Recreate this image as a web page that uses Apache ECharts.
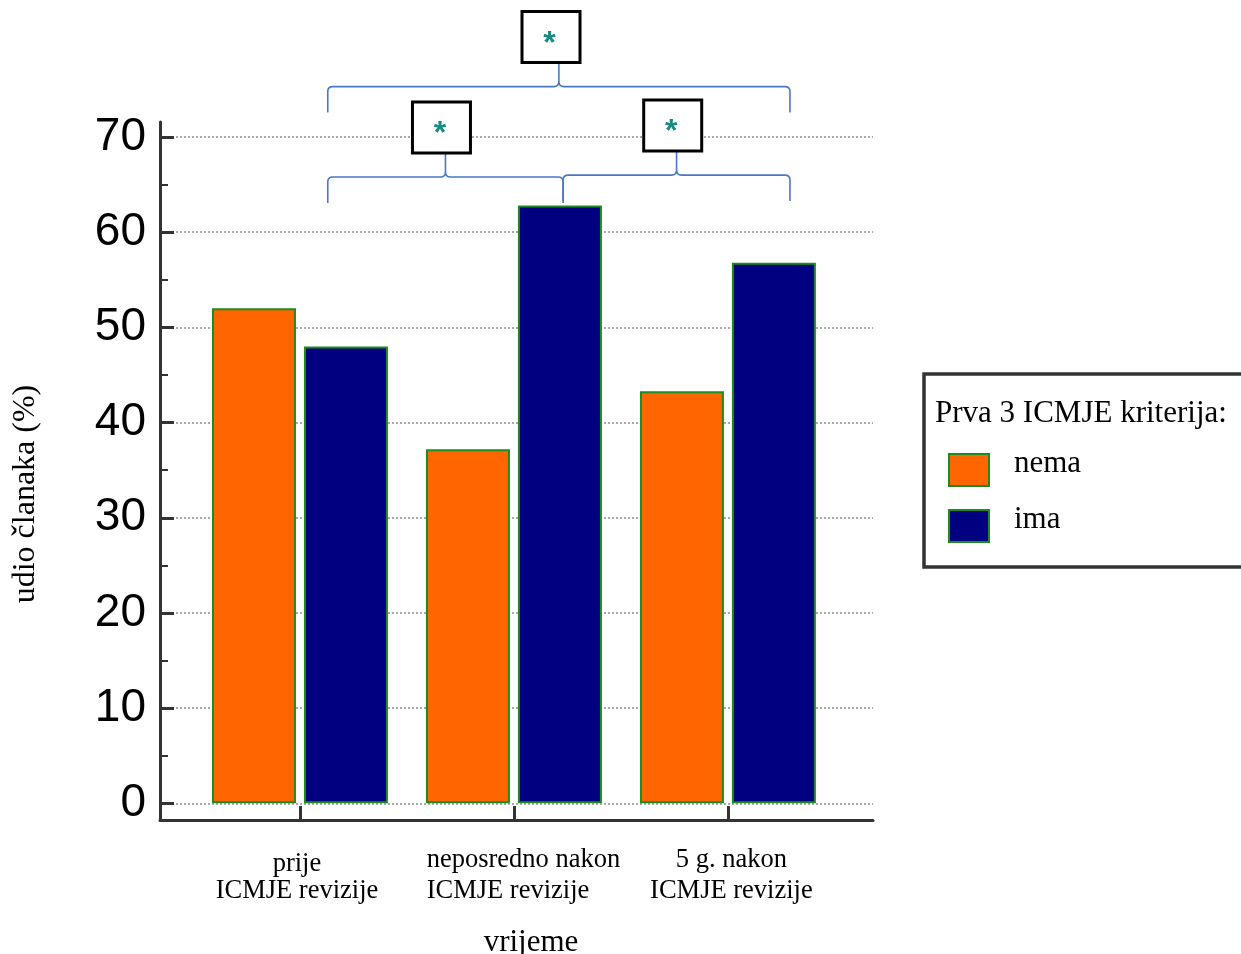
<!DOCTYPE html>
<html><head><meta charset="utf-8">
<script src="https://cdn.jsdelivr.net/npm/echarts@6/dist/echarts.min.js"></script>
<style>html,body{margin:0;padding:0;background:#fff}#c{width:1241px;height:954px}</style>
</head><body><div id="c"></div>
<script>
// ---- data ----
const categories = ['prije\nICMJE revizije', 'neposredno nakon\nICMJE revizije', '5 g. nakon\nICMJE revizije'];
const seriesNames = ['nema', 'ima'];
const nemaValues = [52, 37.2, 43.3];
const imaValues = [48, 62.8, 56.8];
const yTicks = [0, 10, 20, 30, 40, 50, 60, 70];
const yMinorTicks = [5, 15, 25, 35, 45, 55, 65];
const legendTitle = 'Prva 3 ICMJE kriterija:';
const xName = 'vrijeme';
const yName = 'udio članaka (%)';
// significance brackets: from / to (x units), level (y units)
const bracketFrom = [0.13, 1.23, 0.13];
const bracketTo = [1.23, 2.29, 2.29];
const bracketLevel = [65.8, 66.0, 75.3];
const bracketLabels = ['*', '*', '*'];

// ---- chart ----
const serif = '"Liberation Serif", "Times New Roman", serif';
const sans = '"Liberation Sans", Arial, sans-serif';
const catIdx = categories.map((_, i) => i);
const chart = echarts.init(document.getElementById('c'), null, {renderer: 'canvas'});

const axisColor = '#333';
const edge = '#1f8a1f';
const labelFont = {fontFamily: serif, fontSize: 26.5, color: '#000', lineHeight: 30.5};
// per-category label styling (first line, second line)
const labelStyleNames = [['a1', 'a2'], ['b', 'b'], ['c', 'c']];

const option = {
  animation: false,
  grid: {left: 160, right: 368, top: 122, bottom: 134, containLabel: false, outerBoundsMode: 'none'},
  title: {
    text: legendTitle, left: 935, top: 398, padding: 0,
    textStyle: {fontFamily: serif, fontSize: 31, fontWeight: 'normal', color: '#000'}
  },
  legend: {
    orient: 'vertical', left: 924, top: 374,
    data: seriesNames,
    itemWidth: 40, itemHeight: 32, itemGap: 12,
    padding: [74, 180, 19, 24],
    borderColor: axisColor, borderWidth: 3.5, backgroundColor: 'transparent',
    icon: 'rect',
    formatter: name => '{t|' + name + '}',
    textStyle: {
      fontFamily: serif, fontSize: 31, color: '#000',
      rich: {t: {fontFamily: serif, fontSize: 31, color: '#000', lineHeight: 31, padding: [0, 0, 13, 20]}}
    }
  },
  xAxis: {
    type: 'value', min: -0.654, max: 2.678,
    name: xName, nameLocation: 'middle', nameGap: 107,
    nameTextStyle: {fontFamily: serif, fontSize: 31, color: '#000', padding: [0, 0, 0, 29]},
    axisLine: {show: true, onZero: false, lineStyle: {color: axisColor, width: 3}},
    axisTick: {show: true, inside: true, length: 14, customValues: catIdx, lineStyle: {color: axisColor, width: 3}},
    axisLabel: {
      customValues: catIdx, margin: 25,
      fontFamily: serif, fontSize: 26.5, color: '#000', lineHeight: 30.5,
      formatter: v => {
        const i = Math.round(v);
        return categories[i].split('\n').map((l, k) => '{' + labelStyleNames[i][k] + '|' + l + '}').join('\n');
      },
      rich: {
        a1: Object.assign({padding: [7, 6, 0, 0]}, labelFont),
        a2: Object.assign({padding: [0, 6, 0, 0]}, labelFont),
        b: Object.assign({align: 'left', padding: [0, 0, 0, 19]}, labelFont),
        c: Object.assign({padding: [0, 0, 0, 7]}, labelFont)
      }
    },
    splitLine: {show: false}
  },
  yAxis: [{
    type: 'value', min: -1.75, max: 71.58,
    name: yName, nameLocation: 'middle', nameGap: 118,
    nameTextStyle: {fontFamily: serif, fontSize: 32, color: '#000', padding: [0, 46, 0, 0]},
    axisLine: {show: true, onZero: false, lineStyle: {color: axisColor, width: 3}},
    axisTick: {show: true, inside: true, length: 14, customValues: yTicks, lineStyle: {color: axisColor, width: 3}},
    axisLabel: {customValues: yTicks, margin: 14, fontFamily: sans, fontSize: 46, color: '#000'},
    splitLine: {show: true, lineStyle: {color: '#aaa', type: [2, 2], width: 2}}
  }, {
    type: 'value', min: -1.75, max: 71.58, position: 'left',
    axisLine: {show: false, onZero: false},
    axisTick: {show: true, inside: true, length: 8, customValues: yMinorTicks, lineStyle: {color: axisColor, width: 2}},
    axisLabel: {show: false},
    splitLine: {show: false}
  }],
  series: [
    {
      name: seriesNames[0], type: 'bar', barWidth: 84, barGap: '9.5%',
      data: nemaValues.map((v, i) => [i, v]),
      itemStyle: {color: '#FF6600', borderColor: edge, borderWidth: 2}
    },
    {
      name: seriesNames[1], type: 'bar', barWidth: 84, barGap: '9.5%',
      data: imaValues.map((v, i) => [i, v]),
      itemStyle: {color: '#000080', borderColor: edge, borderWidth: 2}
    },
    {
      name: 'sig', type: 'custom', silent: true, z: 5, clip: false,
      encode: {x: [0, 1], y: 2},
      data: bracketFrom.map((f, i) => [f, bracketTo[i], bracketLevel[i]]),
      renderItem: function (params, api) {
        const p1 = api.coord([api.value(0), api.value(2)]);
        const p2 = api.coord([api.value(1), api.value(2)]);
        const xa = p1[0], xb = p2[0], y = p1[1], xc = (xa + xb) / 2;
        const r = 5, drop = 26, gap = 24, bw = 58, bh = 51;
        const yEnd = y + drop, yTop = y - gap;
        const d = 'M' + xa + ' ' + yEnd + ' L' + xa + ' ' + (y + r) + ' Q' + xa + ' ' + y + ' ' + (xa + r) + ' ' + y +
          ' L' + (xc - r) + ' ' + y + ' Q' + xc + ' ' + y + ' ' + xc + ' ' + (y - r) + ' L' + xc + ' ' + yTop +
          ' M' + xc + ' ' + (y - r) + ' Q' + xc + ' ' + y + ' ' + (xc + r) + ' ' + y +
          ' L' + (xb - r) + ' ' + y + ' Q' + xb + ' ' + y + ' ' + xb + ' ' + (y + r) + ' L' + xb + ' ' + yEnd;
        const bx = xc - (xb - xa) * 0.017;
        return {
          type: 'group', children: [
            {type: 'path', shape: {pathData: d}, style: {stroke: '#4a78c8', lineWidth: 1.6, fill: null}},
            {type: 'rect', shape: {x: bx - bw / 2, y: yTop - bh, width: bw, height: bh},
              style: {fill: '#fff', stroke: '#000', lineWidth: 3}},
            {type: 'text', x: bx - 1.5, y: yTop - bh / 2 + 7,
              style: {text: bracketLabels[params.dataIndex], fill: '#178a82',
                font: 'bold 32px "Liberation Sans"', align: 'center', verticalAlign: 'middle'}}
          ]
        };
      }
    }
  ]
};
chart.setOption(option);
</script>
</body></html>
